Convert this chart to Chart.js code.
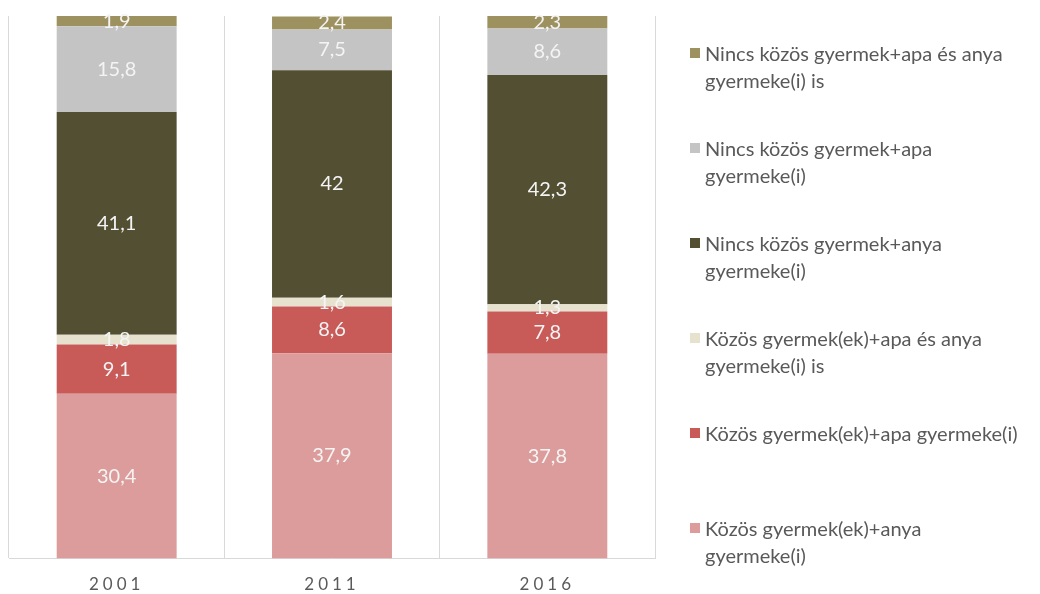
<!DOCTYPE html>
<html>
<head>
<meta charset="utf-8">
<script src="https://cdn.jsdelivr.net/npm/chart.js@4/dist/chart.umd.min.js"></script>
<style>
  html, body { margin: 0; padding: 0; background: #fff; overflow: hidden; }
  #wrap { position: relative; width: 1040px; height: 594px; }
  #legend { position: absolute; left: 690px; top: 40px; font-family: Lato, sans-serif; font-size: 20px; color: #595959; }
  .item { position: absolute; left: 0; width: 350px; line-height: 27px; white-space: nowrap; }
  .box { position: absolute; left: 0; top: 8px; width: 10px; height: 10px; }
  .txt { margin-left: 15px; }
</style>
</head>
<body>
<div id="wrap">
  <canvas id="chart" width="1040" height="594"></canvas>
  <div id="legend"></div>
</div>
<script>
// Years on the x axis
const years = ['2001', '2011', '2016'];

// Series, bottom to top in the stack
const seriesNames = [
  'Közös gyermek(ek)+anya gyermeke(i)',
  'Közös gyermek(ek)+apa gyermeke(i)',
  'Közös gyermek(ek)+apa és anya gyermeke(i) is',
  'Nincs közös gyermek+anya gyermeke(i)',
  'Nincs közös gyermek+apa gyermeke(i)',
  'Nincs közös gyermek+apa és anya gyermeke(i) is'
];
// legend wording split into lines as in the original
const legendLines = [
  ['Közös gyermek(ek)+anya', 'gyermeke(i)'],
  ['Közös gyermek(ek)+apa gyermeke(i)'],
  ['Közös gyermek(ek)+apa és anya', 'gyermeke(i) is'],
  ['Nincs közös gyermek+anya', 'gyermeke(i)'],
  ['Nincs közös gyermek+apa', 'gyermeke(i)'],
  ['Nincs közös gyermek+apa és anya', 'gyermeke(i) is']
];

const kozosAnya = [30.4, 37.9, 37.8];
const kozosApa = [9.1, 8.6, 7.8];
const kozosMindketto = [1.8, 1.6, 1.3];
const nincsAnya = [41.1, 42, 42.3];
const nincsApa = [15.8, 7.5, 8.6];
const nincsMindketto = [1.9, 2.4, 2.3];

const colors = ['#dc9c9b', '#c85a58', '#e6e2cd', '#524f33', '#c4c4c4', '#9e9160'];
const values = [kozosAnya, kozosApa, kozosMindketto, nincsAnya, nincsApa, nincsMindketto];

const datasets = values.map((v, i) => ({
  label: seriesNames[i],
  data: v,
  backgroundColor: colors[i],
  borderWidth: 0,
  categoryPercentage: 1,
  barPercentage: 0.557
}));

// white value labels in the middle of each segment
const segmentLabels = {
  id: 'segmentLabels',
  afterDatasetsDraw(chart) {
    const ctx = chart.ctx;
    ctx.save();
    ctx.letterSpacing = '0px';
    ctx.font = '20px Lato, sans-serif';
    ctx.fillStyle = '#f4f4f4';
    ctx.textAlign = 'center';
    ctx.textBaseline = 'middle';
    chart.data.datasets.forEach((ds, i) => {
      chart.getDatasetMeta(i).data.forEach((bar, j) => {
        const txt = String(ds.data[j]).replace('.', ',');
        ctx.fillText(txt, bar.x, (bar.y + bar.base) / 2);
      });
    });
    ctx.restore();
  }
};

// spaced-out year labels
const spacedTicks = {
  id: 'spacedTicks',
  beforeDraw(chart) { chart.ctx.letterSpacing = '4px'; },
  beforeDatasetsDraw(chart) { chart.ctx.letterSpacing = '0px'; }
};

new Chart(document.getElementById('chart').getContext('2d'), {
  type: 'bar',
  data: { labels: years, datasets: datasets },
  options: {
    responsive: false,
    animation: false,
    layout: { padding: { left: 9, right: 385, top: 16, bottom: -17 } },
    scales: {
      x: {
        stacked: true,
        grid: { color: '#d9d9d9', drawTicks: false, offset: true },
        border: { color: '#d9d9d9' },
        ticks: { color: '#5a5a5a', font: { family: 'Lato', size: 17 }, padding: 16 }
      },
      y: {
        stacked: true,
        display: false,
        min: 0,
        max: 100.1
      }
    },
    plugins: {
      legend: { display: false },
      tooltip: { enabled: false }
    }
  },
  plugins: [segmentLabels, spacedTicks]
});

// legend on the right, top entry is the top of the stack
const legend = document.getElementById('legend');
for (let k = 0; k < seriesNames.length; k++) {
  const i = seriesNames.length - 1 - k;
  const item = document.createElement('div');
  item.className = 'item';
  item.style.top = (k * 95) + 'px';
  item.innerHTML = '<span class="box" style="background:' + colors[i] + '"></span>' +
    '<div class="txt">' + legendLines[i].join('<br>') + '</div>';
  legend.appendChild(item);
}
</script>
</body>
</html>
